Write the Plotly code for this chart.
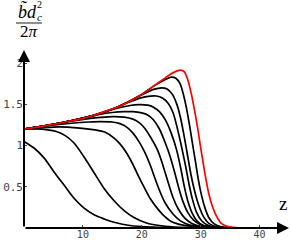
import plotly.graph_objects as go

# ---- data ----
z_A = [0, 1.7, 3.4, 5.1, 6.8, 8.5, 10.2, 11.9, 13.6, 15.3, 18, 22, 26, 32, 40]
v_A = [1.05, 0.97, 0.85, 0.68, 0.52, 0.36, 0.24, 0.16, 0.11, 0.07, 0.03, 0.01, 0.003, 0, 0]

z_B = [0, 2, 4, 5.5, 7, 8.5, 10.2, 11.9, 13.6, 15.3, 17, 18.6, 20.8, 24, 28, 34, 40]
v_B = [1.2, 1.2, 1.19, 1.17, 1.12, 1.03, 0.86, 0.67, 0.48, 0.33, 0.21, 0.13, 0.06, 0.02, 0.005, 0, 0]

z_C = [0, 3, 6, 9, 12, 13.8, 15.3, 16.3, 17.5, 18.5, 19.5, 20.5, 21.4, 22.5, 23.6, 25, 27, 30, 34, 40]
v_C = [1.2, 1.215, 1.225, 1.215, 1.19, 1.16, 1.09, 1.02, 0.90, 0.77, 0.62, 0.48, 0.36, 0.25, 0.16, 0.08, 0.035, 0.01, 0, 0]

z_D = [0, 4, 8, 11, 13, 15, 16.3, 17.5, 18.5, 19.5, 20.5, 21.4, 22.3, 23.1, 24, 25.3, 26.5, 28, 30, 33, 40]
v_D = [1.2, 1.24, 1.27, 1.285, 1.29, 1.285, 1.265, 1.22, 1.15, 1.05, 0.92, 0.77, 0.59, 0.44, 0.30, 0.17, 0.09, 0.04, 0.015, 0, 0]

z_E = [0, 4, 8, 11, 13, 15, 17, 18.5, 19.5, 20.5, 21.5, 22.7, 23.5, 24.4, 25.3, 26.2, 27.3, 28.5, 30, 33, 40]
v_E = [1.2, 1.245, 1.295, 1.325, 1.34, 1.35, 1.345, 1.32, 1.28, 1.21, 1.10, 0.94, 0.78, 0.57, 0.37, 0.23, 0.12, 0.055, 0.02, 0, 0]

z_F = [0, 4, 8, 11, 13, 15, 17, 18.5, 20, 21, 22, 23, 24, 24.8, 25.6, 26.3, 27, 27.8, 28.8, 30, 32, 35, 40]
v_F = [1.2, 1.245, 1.30, 1.345, 1.38, 1.40, 1.41, 1.41, 1.395, 1.37, 1.31, 1.20, 1.03, 0.87, 0.67, 0.48, 0.32, 0.19, 0.095, 0.04, 0.01, 0, 0]

z_G = [0, 4, 8, 12, 14, 16, 18, 19.5, 21, 22, 23, 24, 25, 25.9, 26.6, 27.2, 27.8, 28.5, 29.4, 30.5, 32, 35, 40]
v_G = [1.2, 1.245, 1.30, 1.37, 1.415, 1.455, 1.485, 1.495, 1.49, 1.465, 1.41, 1.31, 1.15, 0.95, 0.73, 0.51, 0.33, 0.19, 0.085, 0.03, 0.01, 0, 0]

z_H = [0, 4, 8, 12, 16, 18, 20, 21.5, 22.5, 23.5, 24.5, 25.3, 26, 26.8, 27.5, 28, 28.6, 29.3, 30.2, 31.3, 33, 36, 40]
v_H = [1.2, 1.245, 1.30, 1.37, 1.47, 1.53, 1.58, 1.60, 1.60, 1.575, 1.51, 1.40, 1.22, 0.97, 0.73, 0.54, 0.35, 0.19, 0.085, 0.03, 0.005, 0, 0]

z_I = [0, 4, 8, 12, 16, 20, 22, 23.4, 24.3, 25.2, 26, 26.6, 27.2, 27.8, 28.4, 29, 29.7, 30.5, 31.5, 33, 36, 40]
v_I = [1.2, 1.245, 1.30, 1.37, 1.47, 1.615, 1.68, 1.70, 1.685, 1.62, 1.49, 1.33, 1.11, 0.87, 0.63, 0.44, 0.27, 0.135, 0.05, 0.012, 0, 0]

z_J = [0, 4, 8, 12, 16, 20, 22, 24, 25, 25.8, 26.5, 27.1, 27.6, 28.1, 28.6, 29.1, 29.6, 30.1, 30.7, 31.4, 32.3, 33.5, 36, 40]
v_J = [1.2, 1.245, 1.30, 1.37, 1.47, 1.62, 1.72, 1.80, 1.83, 1.815, 1.75, 1.61, 1.45, 1.25, 1.03, 0.81, 0.59, 0.41, 0.25, 0.125, 0.05, 0.015, 0, 0]

z_red = [0, 2, 4, 6, 8, 10, 12, 14, 16, 18, 20, 22, 24, 25, 26, 26.6, 27.2, 27.8, 28.4, 28.9, 29.4, 29.9, 30.4, 30.9, 31.4, 32, 32.7, 33.5, 34.5, 36, 38, 40]
v_red = [1.2, 1.22, 1.245, 1.27, 1.30, 1.33, 1.37, 1.42, 1.47, 1.54, 1.62, 1.72, 1.82, 1.87, 1.905, 1.915, 1.895, 1.80, 1.63, 1.45, 1.25, 1.02, 0.80, 0.59, 0.41, 0.26, 0.14, 0.055, 0.02, 0.005, 0, 0]

x_ticks = [10, 20, 30, 40]
x_tick_labels = ["10", "20", "30", "40"]
y_ticks = [0.5, 1, 1.5, 2]
y_tick_labels = ["0.5", "1", "1.5", "2"]

X_MAX = 45
Y_MAX = 2.158

black_curves = [(z_A, v_A), (z_B, v_B), (z_C, v_C), (z_D, v_D), (z_E, v_E),
                (z_F, v_F), (z_G, v_G), (z_H, v_H), (z_I, v_I), (z_J, v_J)]

fig = go.Figure()
for zz, vv in black_curves:
    fig.add_trace(go.Scatter(x=zz, y=vv, mode="lines",
                             line=dict(color="black", width=1.7, shape="spline", smoothing=0.8),
                             hoverinfo="skip", showlegend=False))
fig.add_trace(go.Scatter(x=z_red, y=v_red, mode="lines",
                         line=dict(color="#ff0000", width=1.7, shape="spline", smoothing=0.8),
                         hoverinfo="skip", showlegend=False))

tickfont = dict(family="DejaVu Sans Mono", size=11, color="#444444")
fig.update_layout(
    width=291, height=240,
    margin=dict(l=24, r=2, t=50, b=12, autoexpand=False),
    paper_bgcolor="white", plot_bgcolor="white",
    xaxis=dict(range=[0, X_MAX], showgrid=False, zeroline=False, showline=False,
               automargin=False,
               tickvals=x_ticks, ticktext=x_tick_labels, ticks="inside", ticklen=3,
               tickcolor="#444444", tickfont=dict(family="DejaVu Sans Mono", size=10, color="#444444"),
               ticklabelstandoff=-1),
    yaxis=dict(range=[0, Y_MAX], showgrid=False, zeroline=False, showline=False,
               automargin=False,
               tickvals=y_ticks, ticktext=y_tick_labels, ticks="inside", ticklen=3,
               tickcolor="#444444", tickfont=tickfont),
)

# axes with arrows
fig.add_annotation(x=X_MAX, y=0, ax=0, ay=0, xref="x", yref="y", axref="x", ayref="y",
                   text="", showarrow=True, arrowhead=2, arrowsize=1.2, arrowwidth=2, arrowcolor="black")
fig.add_annotation(x=0, y=Y_MAX, ax=0, ay=0, xref="x", yref="y", axref="x", ayref="y",
                   text="", showarrow=True, arrowhead=2, arrowsize=1.2, arrowwidth=2, arrowcolor="black")

# axis label z
fig.add_annotation(x=1.0, y=0.135, xref="paper", yref="paper", xanchor="right", yanchor="middle",
                   text="z", showarrow=False, font=dict(family="Liberation Serif", size=19, color="black"))

# y label: fraction  b~ d_c^2 / 2pi
def px_to_paper(px, py):
    return (px - 24) / 265.0, (228 - py) / 178.0

serif = "Liberation Serif"
xp, yp = px_to_paper(16, 11)
fig.add_annotation(x=xp, y=yp, xref="paper", yref="paper", xanchor="left", yanchor="middle",
                   text="<i>b\u0303d</i>", showarrow=False, font=dict(family=serif, size=18, color="black"))
xp, yp = px_to_paper(39, 17)
fig.add_annotation(x=xp, y=yp, xref="paper", yref="paper", xanchor="center", yanchor="middle",
                   text="<i>c</i>", showarrow=False, font=dict(family=serif, size=11, color="black"))
xp, yp = px_to_paper(39, 5)
fig.add_annotation(x=xp, y=yp, xref="paper", yref="paper", xanchor="center", yanchor="middle",
                   text="2", showarrow=False, font=dict(family=serif, size=10, color="black"))
xp, yp = px_to_paper(28.5, 31.5)
fig.add_annotation(x=xp, y=yp, xref="paper", yref="paper", xanchor="center", yanchor="middle",
                   text="2<i>π</i>", showarrow=False, font=dict(family=serif, size=17, color="black"))
x0, y0 = px_to_paper(16, 23)
x1, _ = px_to_paper(42, 23)
fig.add_shape(type="line", xref="paper", yref="paper", x0=x0, x1=x1, y0=y0, y1=y0,
              line=dict(color="#444444", width=1.2))

fig.write_html("out.html", config={"displayModeBar": False},
               post_script="document.body.style.margin='0';document.body.style.overflow='hidden';")
